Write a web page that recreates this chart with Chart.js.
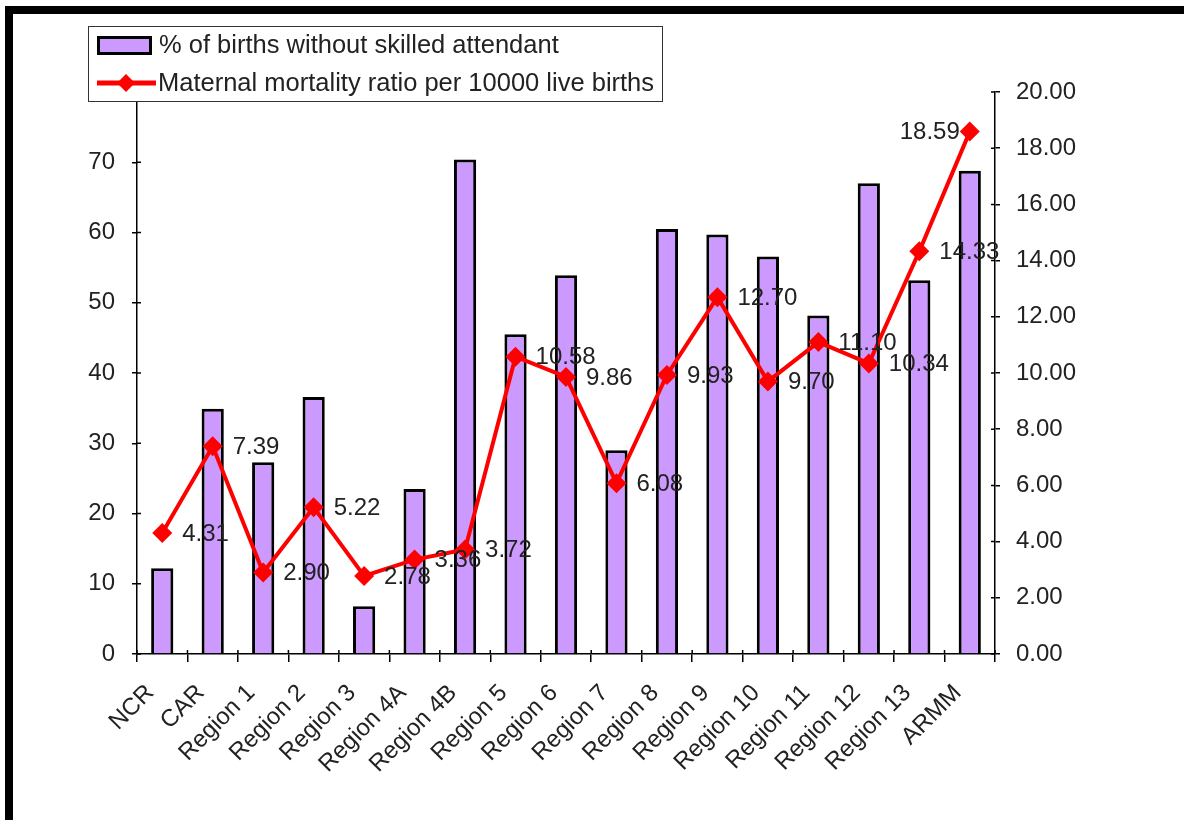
<!DOCTYPE html>
<html><head><meta charset="utf-8">
<script src="https://cdn.jsdelivr.net/npm/chart.js@4"></script>
<style>html,body{margin:0;padding:0;background:#fff;overflow:hidden}
#wrap{position:absolute;left:0;top:0;width:1184px;height:820px}</style>
</head><body><div id="wrap"><canvas id="c" width="1184" height="820"></canvas></div>
<script>
const categories = ['NCR','CAR','Region 1','Region 2','Region 3','Region 4A','Region 4B','Region 5','Region 6','Region 7','Region 8','Region 9','Region 10','Region 11','Region 12','Region 13','ARMM'];
const birthsWithoutSkilled = [12.2, 34.9, 27.3, 36.6, 6.8, 23.5, 70.4, 45.5, 53.9, 29.0, 60.5, 59.7, 56.6, 48.2, 67.0, 53.2, 68.8];
const maternalMortality = [4.31, 7.39, 2.90, 5.22, 2.78, 3.36, 3.72, 10.58, 9.86, 6.08, 9.93, 12.70, 9.70, 11.10, 10.34, 14.33, 18.59];
const leftTicks = [0,10,20,30,40,50,60,70,80];
const rightTicks = [0,2,4,6,8,10,12,14,16,18,20];
const seriesNames = ['% of births without skilled attendant','Maternal mortality ratio per 10000 live births'];

const FONT = "'Liberation Sans', Arial, sans-serif";
Chart.defaults.font.family = FONT;

const framePlugin = {
  id:'frame',
  afterDraw(chart){
    const ctx = chart.ctx;
    ctx.save();
    ctx.fillStyle = '#000';
    ctx.fillRect(5,6,1179,8);
    ctx.fillRect(5,6,8,814);
    ctx.restore();
  }
};

const innerTickPlugin = {
  id:'innerTicks',
  afterDatasetsDraw(chart){
    const ctx = chart.ctx, a = chart.chartArea;
    const ys = chart.scales.y, y1 = chart.scales.y1;
    ctx.save();
    ctx.strokeStyle = '#000';
    ctx.lineWidth = 1.5;
    ctx.beginPath();
    ys.ticks.forEach(t=>{ const p = ys.getPixelForValue(t.value); ctx.moveTo(a.left, p); ctx.lineTo(a.left+4, p); });
    y1.ticks.forEach(t=>{ const p = y1.getPixelForValue(t.value); ctx.moveTo(a.right, p); ctx.lineTo(a.right-4, p); });
    const n = categories.length, w = (a.right - a.left)/n;
    for (let i=0;i<=n;i++){ const p = a.left + i*w; ctx.moveTo(p, a.bottom); ctx.lineTo(p, a.bottom-4); }
    ctx.stroke();
    ctx.restore();
  }
};

const labelPlugin = {
  id:'pointLabels',
  afterDatasetsDraw(chart){
    const ctx = chart.ctx, a = chart.chartArea;
    const meta = chart.getDatasetMeta(1);
    ctx.save();
    ctx.font = '24px ' + FONT;
    ctx.fillStyle = '#222';
    ctx.textBaseline = 'middle';
    meta.data.forEach((pt,i)=>{
      const txt = maternalMortality[i].toFixed(2);
      const w = ctx.measureText(txt).width;
      if (pt.x + 20 + w > a.right + 10) {
        ctx.textAlign = 'right';
        ctx.fillText(txt, pt.x - 10, pt.y + 1);
      } else {
        ctx.textAlign = 'left';
        ctx.fillText(txt, pt.x + 20, pt.y + 1);
      }
    });
    ctx.restore();
  }
};

const legendPlugin = {
  id:'customLegend',
  afterDraw(chart){
    const ctx = chart.ctx;
    ctx.save();
    ctx.fillStyle = '#fff';
    ctx.fillRect(88,26,574,75);
    ctx.strokeStyle = '#333';
    ctx.lineWidth = 1;
    ctx.strokeRect(88.5,26.5,574,75);
    ctx.fillStyle = '#CC99FF';
    ctx.fillRect(97,36,55,19);
    ctx.strokeStyle = '#000';
    ctx.lineWidth = 3;
    ctx.strokeRect(98.5,37.5,52,16);
    ctx.strokeStyle = '#FF0000';
    ctx.lineWidth = 5;
    ctx.beginPath(); ctx.moveTo(97,83); ctx.lineTo(156,83); ctx.stroke();
    ctx.fillStyle = '#FF0000';
    ctx.beginPath(); ctx.moveTo(126,74); ctx.lineTo(135,83); ctx.lineTo(126,92); ctx.lineTo(117,83); ctx.closePath(); ctx.fill();
    ctx.fillStyle = '#222';
    ctx.font = '25.5px ' + FONT;
    ctx.textAlign = 'left';
    ctx.textBaseline = 'middle';
    ctx.fillText(seriesNames[0], 159, 46);
    ctx.fillText(seriesNames[1], 158, 84);
    ctx.restore();
  }
};

new Chart(document.getElementById('c'), {
  type:'bar',
  data:{
    labels: categories,
    datasets:[
      {
        type:'bar', label: seriesNames[0], data: birthsWithoutSkilled, yAxisID:'y', order:1,
        backgroundColor:'#CC99FF', borderColor:'#000', borderWidth:3,
        barPercentage:0.44, categoryPercentage:1
      },
      {
        type:'line', label: seriesNames[1], data: maternalMortality, yAxisID:'y1', order:0,
        borderColor:'#FF0000', backgroundColor:'#FF0000', borderWidth:4, tension:0,
        pointStyle:'rectRot', pointRadius:10, pointBackgroundColor:'#FF0000', pointBorderWidth:0
      }
    ]
  },
  options:{
    responsive:false, animation:false, devicePixelRatio:1,
    layout:{padding:{top:92,left:0,right:0,bottom:0}},
    plugins:{legend:{display:false}, tooltip:{enabled:false}},
    scales:{
      x:{
        grid:{display:true, drawOnChartArea:false, drawTicks:true, tickLength:8, color:'#000', lineWidth:1.5, offset:true},
        border:{display:true, color:'#000', width:1.5},
        ticks:{autoSkip:false, maxRotation:45, minRotation:45, color:'#222', font:{size:24}, padding:17, labelOffset:-12},
        afterFit(s){ s.height = 166; }
      },
      y:{
        position:'left', min:0, max:80,
        afterBuildTicks(s){ s.ticks = leftTicks.map(v=>({value:v})); },
        grid:{display:true, drawOnChartArea:false, drawTicks:true, tickLength:5, color:'#000', lineWidth:1.5},
        border:{display:true, color:'#000', width:1.5},
        ticks:{color:'#222', font:{size:24}, padding:17, callback:(v)=> v===80 ? '' : String(v)},
        afterFit(s){ s.width = 137; }
      },
      y1:{
        position:'right', min:0, max:20,
        afterBuildTicks(s){ s.ticks = rightTicks.map(v=>({value:v})); },
        grid:{display:true, drawOnChartArea:false, drawTicks:true, tickLength:5, color:'#000', lineWidth:1.5},
        border:{display:true, color:'#000', width:1.5},
        ticks:{color:'#222', font:{size:24}, padding:16, callback:(v)=> Number(v).toFixed(2)},
        afterFit(s){ s.width = 189; }
      }
    }
  },
  plugins:[labelPlugin, innerTickPlugin, legendPlugin, framePlugin]
});
</script></body></html>
